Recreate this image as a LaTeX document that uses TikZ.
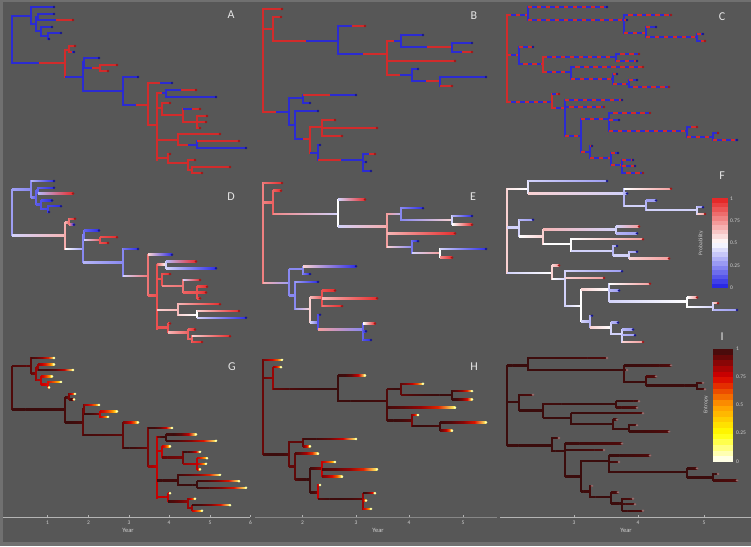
\documentclass[tikz,border=0pt]{standalone}
\usepackage{fontspec}
\setsansfont{Carlito}
\usetikzlibrary{positioning}
\definecolor{mBg}{HTML}{575757}
\definecolor{mFrame}{HTML}{707070}
\definecolor{mRed}{HTML}{D22B2B}
\definecolor{mBlue}{HTML}{2B2BD2}
\definecolor{dRed}{HTML}{A01818}
\definecolor{dBlue}{HTML}{18188C}
\definecolor{pRed}{HTML}{E41E1E}
\definecolor{pBlue}{HTML}{1E1EE4}
\definecolor{eYel}{HTML}{FFFF00}
\definecolor{eOra}{HTML}{FF9A00}
\definecolor{eRed}{HTML}{D80000}
\definecolor{eBlk}{HTML}{3A0C0C}
\definecolor{mLetter}{HTML}{E6E6E6}
\definecolor{mAxis}{HTML}{B4B4B4}
\definecolor{mTick}{HTML}{D0D0D0}

\newif\ifdashtree
% colour of a branch end from its probability #2 (0..100)
\newcommand\setclr[2]{%
  \pgfmathsetmacro\pv{#2}%
  \ifnum\rowmode=1
    \ifdim\pv pt>50pt \colorlet{#1}{mRed}\else\colorlet{#1}{mBlue}\fi
  \else\ifnum\rowmode=2
    \ifdim\pv pt<50pt
      \pgfmathsetmacro\pw{100*((100-2*\pv)/100)^0.7}\colorlet{#1}{pBlue!\pw!white}%
    \else
      \pgfmathsetmacro\pw{100*((2*\pv-100)/100)^0.7}\colorlet{#1}{pRed!\pw!white}%
    \fi
  \else
    \pgfmathsetmacro\pq{max(0.1,min(99.9,\pv))/100}%
    \pgfmathsetmacro\pe{100*sqrt(-(\pq*ln(\pq)+(1-\pq)*ln(1-\pq))/ln(2))}%
    \setentr{#1}{\pe}%
  \fi\fi}
% colour from an entropy value (0..100)
\newcommand\setentr[2]{%
  \pgfmathsetmacro\pe{min(100,max(0,#2))}%
  \ifdim\pe pt<25pt
    \pgfmathsetmacro\pw{4*\pe}\colorlet{#1}{eYel!\pw!white}%
  \else\ifdim\pe pt<50pt
    \pgfmathsetmacro\pw{4*(\pe-25)}\colorlet{#1}{eOra!\pw!eYel}%
  \else\ifdim\pe pt<75pt
    \pgfmathsetmacro\pw{4*(\pe-50)}\colorlet{#1}{eRed!\pw!eOra}%
  \else
    \pgfmathsetmacro\pw{4*(\pe-75)}\colorlet{#1}{eBlk!\pw!eRed}%
  \fi\fi\fi}
% horizontal branch: x0, x1, y, p0, p1
\newcommand\br[5]{%
  \setclr{cL}{#4}\setclr{cR}{#5}%
  \ifnum\rowmode=1
    \ifdashtree
      \draw[bline, cR] (#1,#3) -- (#2,#3);
      \pgfmathsetmacro\pv{#5}%
      \ifdim\pv pt>50pt \colorlet{cO}{mBlue}\else\colorlet{cO}{mRed}\fi
      \draw[bline, cO, dash pattern=on 4pt off 5pt] (#1,#3) -- (#2,#3);
    \else
      \pgfmathsetmacro\xm{(#1+#2)/2}%
      \draw[bline, cL] (#1,#3) -- (\xm,#3);
      \draw[bline, cR] (\xm,#3) -- (#2,#3);
    \fi
  \else\ifnum\rowmode=2
    \shade[left color=cL, right color=cR] (#1,{#3-0.75}) rectangle (#2,{#3+0.75});
  \else
    \foreach \s in {0,...,3} {
      \pgfmathsetmacro\xa{#1+\s*(#2-#1)/4}
      \pgfmathsetmacro\xb{#1+(\s+1)*(#2-#1)/4+0.3}
      \setclr{cSa}{#4+\s*(#5-#4)/4}
      \setclr{cSb}{#4+(\s+1)*(#5-#4)/4}
      \shade[left color=cSa, right color=cSb] (\xa,{#3-0.75}) rectangle (\xb,{#3+0.75});
    }
  \fi\fi}
% vertical connector: x, y0, y1, p
\newcommand\vl[4]{%
  \setclr{cV}{#4}%
  \draw[bline, cV] (#1,{#2-0.75}) -- (#1,{#3+0.75});}
% branch ending in a tip
\newcommand\tp[5]{%
  \ifnum\rowmode<3
    \br{#1}{#2}{#3}{#4}{#5}%
    \pgfmathsetmacro\pv{#5}%
    \ifdim\pv pt>50pt \colorlet{cD}{dRed}\else\colorlet{cD}{dBlue}\fi
  \else
    \pgfmathsetmacro\pt{#5<=5 ? 0.2 : (#5>=95 ? 99.8 : #5)}%
    \br{#1}{#2}{#3}{#4}{\pt}%
    \colorlet{cD}{cR!60!white}%
  \fi
  \fill[cD] (#2,#3) circle (1.4pt);}

% tree of the first column
\newcommand\treeA{%
  \vl{12}{16}{63}{35}
  \br{12}{31}{16}{35}{30}
  \vl{31}{7}{24}{30}
  \tp{31}{54}{7}{40}{5}
  \br{31}{36}{24}{30}{20}
  \vl{36}{17}{31}{20}
  \br{36}{38}{17}{20}{20}
  \vl{38}{14}{20}{20}
  \tp{38}{54}{14}{20}{5}
  \tp{38}{73}{20}{40}{95}
  \br{36}{41}{31}{18}{15}
  \vl{41}{27}{36}{15}
  \tp{41}{52}{27}{15}{5}
  \br{41}{48}{36}{15}{12}
  \vl{48}{33}{39}{12}
  \tp{48}{61}{33}{12}{5}
  \tp{48}{49}{39}{12}{5}
  \br{12}{65}{63}{45}{60}
  \vl{65}{50}{77}{62}
  \br{65}{69}{50}{62}{75}
  \vl{69}{46}{52}{75}
  \tp{69}{75}{46}{80}{95}
  \tp{69}{74}{52}{70}{5}
  \br{65}{83}{77}{50}{35}
  \vl{83}{62}{91}{30}
  \br{83}{84}{62}{30}{25}
  \vl{84}{58}{68}{25}
  \tp{84}{99}{58}{20}{5}
  \br{84}{100}{68}{45}{80}
  \vl{100}{65}{71}{85}
  \tp{100}{117}{65}{85}{95}
  \tp{100}{108}{71}{85}{95}
  \br{83}{123}{91}{40}{30}
  \vl{123}{77}{105}{30}
  \tp{123}{138}{77}{25}{5}
  \br{123}{148}{105}{45}{75}
  \vl{148}{83}{125}{75}
  \tp{148}{172}{83}{55}{5}
  \br{148}{157}{125}{80}{85}
  \vl{157}{93}{160}{85}
  \br{157}{166}{93}{75}{50}
  \vl{166}{90}{97}{45}
  \tp{166}{196}{90}{40}{95}
  \tp{166}{216}{97}{45}{5}
  \br{157}{162}{108}{85}{85}
  \vl{162}{103}{115}{85}
  \tp{162}{170}{103}{85}{95}
  \br{162}{183}{115}{70}{75}
  \vl{183}{109}{122}{75}
  \tp{183}{200}{109}{45}{95}
  \br{183}{197}{122}{80}{85}
  \vl{197}{116}{128}{85}
  \tp{197}{207}{116}{85}{95}
  \tp{197}{206}{122}{85}{95}
  \tp{197}{200}{128}{85}{95}
  \br{157}{178}{140}{55}{60}
  \vl{178}{134}{145}{60}
  \tp{178}{220}{134}{60}{95}
  \br{178}{197}{145}{55}{50}
  \vl{197}{141}{148}{50}
  \tp{197}{239}{141}{55}{95}
  \tp{197}{246}{148}{45}{5}
  \br{157}{168}{158}{85}{85}
  \vl{168}{154}{163}{85}
  \tp{168}{170}{154}{85}{95}
  \br{168}{188}{163}{60}{80}
  \vl{188}{160}{170}{80}
  \tp{188}{195}{160}{80}{95}
  \br{188}{192}{170}{80}{80}
  \vl{192}{167}{173}{80}
  \tp{192}{230}{167}{55}{95}
  \tp{192}{202}{173}{85}{95}}

% tree of the second column
\newcommand\treeB{%
  \vl{13}{9}{112}{72}
  \tp{13}{32}{9}{75}{95}
  \br{13}{23}{29}{72}{80}
  \vl{23}{17}{41}{80}
  \tp{23}{31}{17}{80}{95}
  \br{23}{88}{41}{70}{45}
  \vl{88}{26}{54}{50}
  \tp{88}{115}{26}{45}{95}
  \br{88}{137}{54}{45}{62}
  \vl{137}{41}{75}{65}
  \br{137}{151}{41}{65}{40}
  \vl{151}{35}{47}{30}
  \tp{151}{173}{35}{30}{5}
  \br{151}{202}{47}{30}{55}
  \vl{202}{43}{52}{45}
  \tp{202}{222}{43}{40}{5}
  \tp{202}{222}{52}{50}{95}
  \tp{137}{205}{61}{60}{95}
  \br{137}{162}{75}{55}{30}
  \vl{162}{69}{81}{25}
  \tp{162}{168}{69}{20}{5}
  \br{162}{190}{81}{45}{65}
  \vl{190}{77}{86}{50}
  \tp{190}{236}{77}{45}{5}
  \tp{190}{202}{86}{70}{95}
  \br{13}{39}{112}{62}{35}
  \vl{39}{98}{125}{30}
  \br{39}{53}{98}{30}{30}
  \vl{53}{95}{103}{30}
  \tp{53}{106}{95}{55}{5}
  \tp{53}{60}{103}{25}{5}
  \br{39}{45}{125}{30}{30}
  \vl{45}{111}{139}{30}
  \tp{45}{68}{111}{35}{5}
  \br{45}{60}{139}{35}{55}
  \vl{60}{127}{153}{55}
  \br{60}{72}{127}{60}{80}
  \vl{72}{120}{136}{85}
  \tp{72}{85}{120}{85}{95}
  \tp{72}{127}{128}{60}{95}
  \tp{72}{92}{136}{75}{95}
  \br{60}{68}{153}{45}{25}
  \vl{68}{145}{160}{15}
  \tp{68}{70}{145}{15}{5}
  \br{68}{113}{160}{65}{30}
  \vl{113}{154}{171}{20}
  \tp{113}{125}{154}{50}{95}
  \tp{113}{116}{162}{15}{5}
  \tp{113}{121}{171}{15}{5}}

% tree of the third column
\newcommand\treeC{%
  \vl{7}{15}{102}{55}
  \br{7}{28}{15}{52}{50}
  \vl{28}{7}{20}{48}
  \tp{28}{107}{7}{45}{35}
  \br{28}{124}{20}{55}{45}
  \vl{124}{15}{33}{40}
  \tp{124}{171}{15}{50}{65}
  \tp{124}{127}{20}{40}{35}
  \br{124}{146}{33}{45}{45}
  \vl{146}{27}{37}{40}
  \tp{146}{156}{27}{35}{35}
  \br{146}{197}{37}{45}{45}
  \vl{197}{34}{41}{45}
  \tp{197}{203}{34}{40}{35}
  \tp{197}{205}{41}{55}{65}
  \br{7}{19}{55}{45}{45}
  \vl{19}{47}{64}{45}
  \tp{19}{33}{47}{40}{35}
  \br{19}{43}{64}{50}{55}
  \vl{43}{57}{72}{55}
  \br{43}{116}{57}{60}{45}
  \vl{116}{54}{61}{45}
  \tp{116}{139}{54}{45}{65}
  \tp{116}{137}{61}{40}{35}
  \br{43}{71}{72}{50}{50}
  \vl{71}{67}{79}{50}
  \tp{71}{143}{67}{50}{65}
  \br{71}{113}{79}{45}{45}
  \vl{113}{74}{84}{40}
  \tp{113}{117}{74}{40}{35}
  \br{113}{129}{84}{45}{45}
  \vl{129}{80}{87}{45}
  \tp{129}{137}{80}{40}{35}
  \tp{129}{169}{87}{55}{65}
  \br{7}{52}{102}{45}{50}
  \vl{52}{94}{108}{55}
  \tp{52}{59}{94}{55}{65}
  \br{52}{65}{108}{50}{45}
  \vl{65}{100}{136}{45}
  \tp{65}{122}{100}{45}{35}
  \tp{65}{104}{107}{55}{65}
  \br{65}{81}{136}{45}{50}
  \vl{81}{119}{152}{50}
  \br{81}{109}{119}{55}{50}
  \vl{109}{113}{131}{45}
  \tp{109}{150}{113}{50}{65}
  \tp{109}{119}{120}{40}{35}
  \br{109}{187}{131}{45}{50}
  \vl{187}{127}{137}{50}
  \tp{187}{197}{127}{50}{65}
  \br{187}{213}{137}{50}{45}
  \vl{213}{133}{140}{45}
  \tp{213}{218}{133}{55}{65}
  \tp{213}{237}{140}{40}{35}
  \br{81}{90}{152}{45}{40}
  \vl{90}{146}{158}{40}
  \tp{90}{92}{146}{35}{35}
  \br{90}{111}{158}{55}{50}
  \vl{111}{153}{165}{45}
  \tp{111}{118}{153}{40}{35}
  \br{111}{122}{165}{45}{45}
  \vl{122}{160}{173}{45}
  \tp{122}{133}{160}{40}{35}
  \tp{122}{135}{166}{40}{35}
  \tp{122}{143}{173}{55}{65}}

\tikzset{
  bline/.style={line width=1.5pt},
  letterlab/.style={text=mLetter, font=\sffamily\fontsize{12}{12}\selectfont, inner sep=0pt},
  ticklab/.style={text=mTick, font=\sffamily\fontsize{5.5}{5.5}\selectfont, inner sep=0pt},
  yearlab/.style={text=mTick, font=\sffamily\fontsize{6.5}{6.5}\selectfont, inner sep=0pt},
  barlab/.style={text=mTick, font=\sffamily\fontsize{5.5}{5.5}\selectfont, inner sep=0pt, anchor=west},
  axisline/.style={mAxis, line width=0.8pt},
}

\begin{document}
\begin{tikzpicture}[x=1pt, y=-1pt]
  % Background
  \useasboundingbox (0,0) rectangle (751,546);
  \fill[mFrame] (0,0) rectangle (751,546);
  \fill[mBg] (3,2) rectangle (751,542);

  % Trees, one row per colouring
  \foreach \r/\ys/\ysc in {1/0/1, 2/-174.2/0.97, 3/-351.56/0.92} {
    \begin{scope}[yshift=\ys pt, yscale=\ysc]
      \edef\rowmode{\r}
      \dashtreefalse
      \treeA
      \begin{scope}[xshift=250pt]
        \treeB
      \end{scope}
      \begin{scope}[xshift=500pt]
        \dashtreetrue
        \treeC
      \end{scope}
    \end{scope}
  }

  % Panel letters
  \node[letterlab] (labA) at (231,15) {A};
  \node[letterlab] (labB) at (474,16) {B};
  \node[letterlab] (labC) at (722,17) {C};
  \node[letterlab] (labD) at (231,197) {D};
  \node[letterlab] (labE) at (473,197) {E};
  \node[letterlab] (labF) at (722,176) {F};
  \node[letterlab] (labG) at (232,367) {G};
  \node[letterlab] (labH) at (474,367) {H};
  \node[letterlab] (labI) at (722,337) {I};

  % Probability colour bar
  \foreach \k in {0,...,19} {
    \pgfmathsetmacro\pp{100-(\k+0.5)*5}
    \pgfmathsetmacro\pw{abs(2*\pp-100)}
    \ifdim\pp pt<50pt \colorlet{cB}{pBlue!\pw!white}\else\colorlet{cB}{pRed!\pw!white}\fi
    \fill[cB] (712,{198+\k*4.5}) rectangle (728,{198+(\k+1)*4.5});
  }
  \foreach \v/\yy in {1/199, 0.75/221, 0.5/243, 0.25/266, 0/288}
    \node[barlab] (prob\yy) at (730,\yy) {\v};
  \node[ticklab, rotate=90] (probname) at (701,243) {Probability};

  % Entropy colour bar
  \foreach \k in {0,...,19} {
    \pgfmathsetmacro\pp{100-(\k+0.5)*5}
    \setentr{cB}{\pp}
    \fill[cB] (713,{349+\k*5.65}) rectangle (733,{349+(\k+1)*5.65});
  }
  \foreach \v/\yy in {1/349, 0.75/377, 0.5/405, 0.25/433, 0/462}
    \node[barlab] (entr\yy) at (736,\yy) {\v};
  \node[ticklab, rotate=90] (entrname) at (706,405) {Entropy};

  % Time axes
  \draw[axisline] (3,517) -- (250,517);
  \draw[axisline, mAxis!75!black] (255,517) -- (497,517);
  \draw[axisline] (500,517) -- (751,517);
  \foreach \t/\xx in {1/47.5, 2/88.5, 3/129, 4/169, 5/210, 6/250.5,
                      2/302.5, 3/356, 4/409, 5/463, 3/574, 4/638, 5/704} {
    \draw[mAxis, line width=0.5pt] (\xx,517) -- (\xx,514.5);
    \node[ticklab] (tick\xx) at (\xx,522.5) {\t};
  }
  \node[yearlab] (yearA) at (128,530) {Year};
  \node[yearlab] (yearB) at (378,530) {Year};
  \node[yearlab] (yearC) at (626,530) {Year};
\end{tikzpicture}
\end{document}
